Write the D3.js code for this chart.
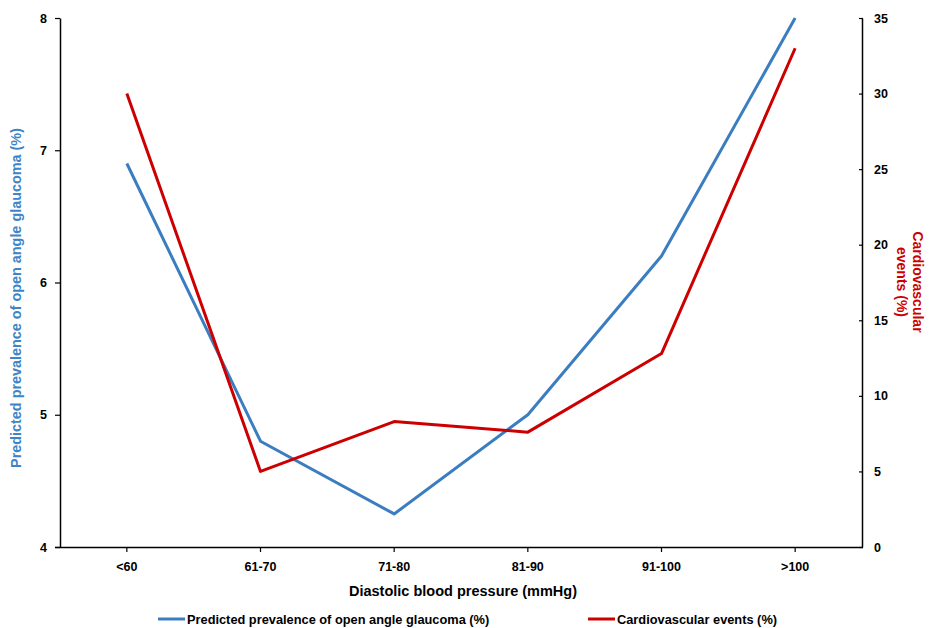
<!DOCTYPE html>
<html>
<head>
<meta charset="utf-8">
<script src="https://cdn.jsdelivr.net/npm/d3@7"></script>
<style>
  body { margin: 0; background: #fff; }
  svg { display: block; font-family: "Liberation Sans", Arial, sans-serif; font-weight: bold; }
</style>
</head>
<body>
<svg id="chart" width="930" height="628"></svg>
<script>
const categories = ["<60", "61-70", "71-80", "81-90", "91-100", ">100"];
const glaucoma = [6.9, 4.8, 4.25, 5.0, 6.2, 8.0];
const cardio = [30.0, 5.0, 8.3, 7.6, 12.8, 33.0];
const leftTicks = [4, 5, 6, 7, 8];
const rightTicks = [0, 5, 10, 15, 20, 25, 30, 35];
const seriesNames = ["Predicted prevalence of open angle glaucoma (%)", "Cardiovascular events (%)"];
const xTitle = "Diastolic blood pressure (mmHg)";
const leftTitle = "Predicted prevalence of open angle glaucoma (%)";
const rightTitle = ["Cardiovascular", "events (%)"];

const blue = "#3A7DC0";
const red = "#CC0000";

const svg = d3.select("#chart");
const m = { left: 60, right: 862, top: 18, bottom: 547 };

const x = d3.scaleBand().domain(categories).range([m.left, m.right]);
const yL = d3.scaleLinear().domain([4, 8]).range([m.bottom, m.top]);
const yR = d3.scaleLinear().domain([0, 35]).range([m.bottom, m.top]);

// Axes
const gx = svg.append("g").attr("transform", `translate(0,${m.bottom})`)
  .call(d3.axisBottom(x).tickSize(5).tickPadding(10).tickSizeOuter(0));
const gl = svg.append("g").attr("transform", `translate(${m.left},0)`)
  .call(d3.axisLeft(yL).tickValues(leftTicks).tickFormat(d3.format("d")).tickSize(5).tickPadding(8).tickSizeOuter(0));
const gr = svg.append("g").attr("transform", `translate(${m.right},0)`)
  .call(d3.axisRight(yR).tickValues(rightTicks).tickFormat(d3.format("d")).tickSize(4).tickPadding(8).tickSizeOuter(0));
gr.selectAll(".tick line").attr("x1", -3).attr("x2", 1);

[gx, gl, gr].forEach(g => {
  g.selectAll(".domain").attr("stroke", "#000").attr("stroke-width", 1.5);
  g.selectAll(".tick line").attr("stroke", "#000").attr("stroke-width", 1.2);
  g.selectAll(".tick text").attr("fill", "#000").style("font-size", "12.5px")
    .style("font-family", "'Liberation Sans', Arial, sans-serif").style("font-weight", "bold");
});
gx.select(".domain").attr("d", `M${m.left - 5},0.5H${m.right + 1}`);

// Lines
const cx = d => x(d) + x.bandwidth() / 2;
const lineL = d3.line().x((d, i) => cx(categories[i])).y(d => yL(d));
const lineR = d3.line().x((d, i) => cx(categories[i])).y(d => yR(d));

svg.append("path").datum(glaucoma).attr("d", lineL)
  .attr("fill", "none").attr("stroke", blue).attr("stroke-width", 3).attr("stroke-linejoin", "round");
svg.append("path").datum(cardio).attr("d", lineR)
  .attr("fill", "none").attr("stroke", red).attr("stroke-width", 3).attr("stroke-linejoin", "round");

// Titles
svg.append("text").attr("x", 463).attr("y", 596)
  .attr("text-anchor", "middle").style("font-size", "14.5px").attr("fill", "#000").text(xTitle);

svg.append("text").attr("transform", "translate(21,298) rotate(-90)")
  .attr("text-anchor", "middle").style("font-size", "14.4px").attr("fill", "#3D85C6").text(leftTitle);

const rt = svg.append("text").attr("transform", "translate(913,282) rotate(90)")
  .attr("text-anchor", "middle").style("font-size", "14px").attr("fill", red);
rt.selectAll("tspan").data(rightTitle).join("tspan")
  .attr("x", 0).attr("dy", (d, i) => i === 0 ? 0 : 16).text(d => d);

// Legend
const legend = [
  { name: seriesNames[0], color: blue, x: 158 },
  { name: seriesNames[1], color: red, x: 588 }
];
const lg = svg.append("g").selectAll("g").data(legend).join("g")
  .attr("transform", d => `translate(${d.x},619)`);
lg.append("line").attr("x1", 0).attr("x2", 27).attr("y1", 0).attr("y2", 0)
  .attr("stroke", d => d.color).attr("stroke-width", 3);
lg.append("text").attr("x", 29).attr("y", 4.5).style("font-size", "12.8px").attr("fill", "#000").text(d => d.name);
</script>
</body>
</html>
